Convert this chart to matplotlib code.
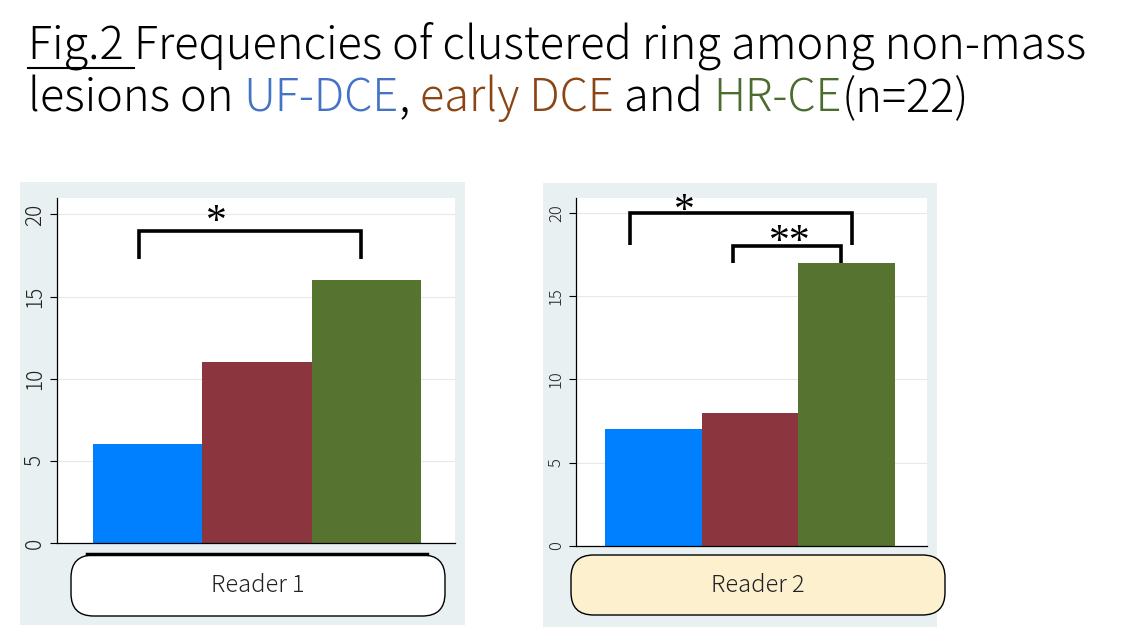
import matplotlib.pyplot as plt
from matplotlib.patches import Rectangle, FancyBboxPatch
from matplotlib.lines import Line2D

# Daten
methods = ["UF-DCE", "early DCE", "HR-CE"]
reader1 = [6, 11, 16]
reader2 = [7, 8, 17]
bar_colors = ["#0080ff", "#8b353e", "#567430"]
title_colors = ["#4472c4", "#8b4513", "#4b6b2f"]

W, H = 1129, 641
plt.rcParams['font.family'] = ['Noto Sans CJK JP', 'DejaVu Sans']
fig = plt.figure(figsize=(W / 100, H / 100), dpi=100)
fig.patch.set_facecolor("white")


def fx(px):
    return px / W


def fy(py):
    return 1 - py / H


# Hintergrund der Panels
for x0, x1, y0, y1 in [(20, 465, 182, 625), (543, 937, 183, 627)]:
    fig.patches.append(Rectangle((fx(x0), fy(y1)), fx(x1 - x0), fy(y0) - fy(y1),
                                 transform=fig.transFigure, facecolor="#e9f0f2",
                                 edgecolor="none", zorder=-5))


def panel(rect, vals, ylim, xlim, tick_size):
    ax = fig.add_axes(rect)
    ax.set_zorder(1)
    ax.bar(range(len(vals)), vals, width=1.0, color=bar_colors, zorder=2)
    ax.set_ylim(0, ylim)
    ax.set_xlim(*xlim)
    ax.set_xticks([])
    ax.set_yticks([0, 5, 10, 15, 20])
    ax.tick_params(axis='y', length=5, width=0.8, labelsize=tick_size,
                   labelrotation=90, pad=3, labelcolor="#222222")
    for lab in ax.get_yticklabels():
        lab.set_va("center")
        lab.set_fontweight("light")
    ax.grid(axis='y', color="#e8e8e8", linewidth=0.8, zorder=0)
    ax.set_axisbelow(True)
    for s in ["top", "right"]:
        ax.spines[s].set_visible(False)
    ax.spines["left"].set_linewidth(0.9)
    ax.spines["bottom"].set_linewidth(0.9)
    return ax


def bracket(ax, x0, x1, y, y0_leg, y1_leg):
    ax.plot([x0, x0, x1, x1], [y0_leg, y, y, y1_leg], color="black",
            linewidth=2.6, solid_capstyle="butt", solid_joinstyle="miter", zorder=3)


star_kw = dict(fontsize=30, ha="center", va="center", family="Liberation Serif")

ax1 = panel([fx(57), fy(543), fx(455 - 57), fy(198) - fy(543)], reader1, 21.0,
            (-0.83, 2.81), 15)
bracket(ax1, -0.08, 1.95, 19.0, 17.3, 17.3)
ax1.text(0.63, 19.5, "*", **star_kw)

ax2 = panel([fx(576), fy(546), fx(927 - 576), fy(198) - fy(546)], reader2, 20.9,
            (-0.80, 2.83), 12)
bracket(ax2, -0.24, 2.05, 20.0, 18.1, 18.1)
bracket(ax2, 0.82, 1.94, 18.0, 17.0, 17.0)
ax2.text(0.32, 20.1, "*", **star_kw)
ax2.text(1.41, 18.2, "**", **star_kw)

# Reader-Boxen
for x0, x1, y0, y1, fc, label in [(71, 445, 555, 616, "white", "Reader 1"),
                                  (571, 945, 555, 615, "#fdf0cf", "Reader 2")]:
    box = FancyBboxPatch((fx(x0), fy(y1)), fx(x1 - x0), fy(y0) - fy(y1),
                         boxstyle="round,pad=0,rounding_size=0.02",
                         transform=fig.transFigure, facecolor=fc,
                         edgecolor="black", linewidth=1.0,
                         mutation_aspect=W / H)
    fig.patches.append(box)
    fig.text(fx((x0 + x1) / 2), fy((y0 + y1) / 2), label, ha="center",
             va="center", fontsize=17, color="#222222", fontweight="light")

fig.lines.append(Line2D([fx(87), fx(427)], [fy(554), fy(554)],
                        transform=fig.transFigure, color="black", linewidth=2.5))

# Titel mit farbigen Teilen
renderer = fig.canvas.get_renderer()


def colored_line(x, y, parts, size):
    ends = []
    for txt, col in parts:
        t = fig.text(x, y, txt, color=col, fontsize=size, va="baseline",
                     ha="left", fontweight="light")
        bb = t.get_window_extent(renderer=renderer)
        x = bb.x1 / fig.bbox.width
        ends.append(x)
    return ends


title_size = 32.5
ends = colored_line(fx(28), fy(58), [("Fig.2 ", "black"),
                                     ("Frequencies of clustered ring among non-mass", "black")],
                    title_size)
colored_line(fx(28), fy(111), [("lesions on ", "black"), (methods[0], title_colors[0]),
                               (", ", "black"), (methods[1], title_colors[1]),
                               (" and ", "black"), (methods[2], title_colors[2]),
                               ("(n=22)", "black")], title_size)
fig.lines.append(Line2D([fx(28), ends[0]], [fy(68), fy(68)],
                        transform=fig.transFigure, color="black", linewidth=1.5))

fig.savefig("out.png", dpi=100)
